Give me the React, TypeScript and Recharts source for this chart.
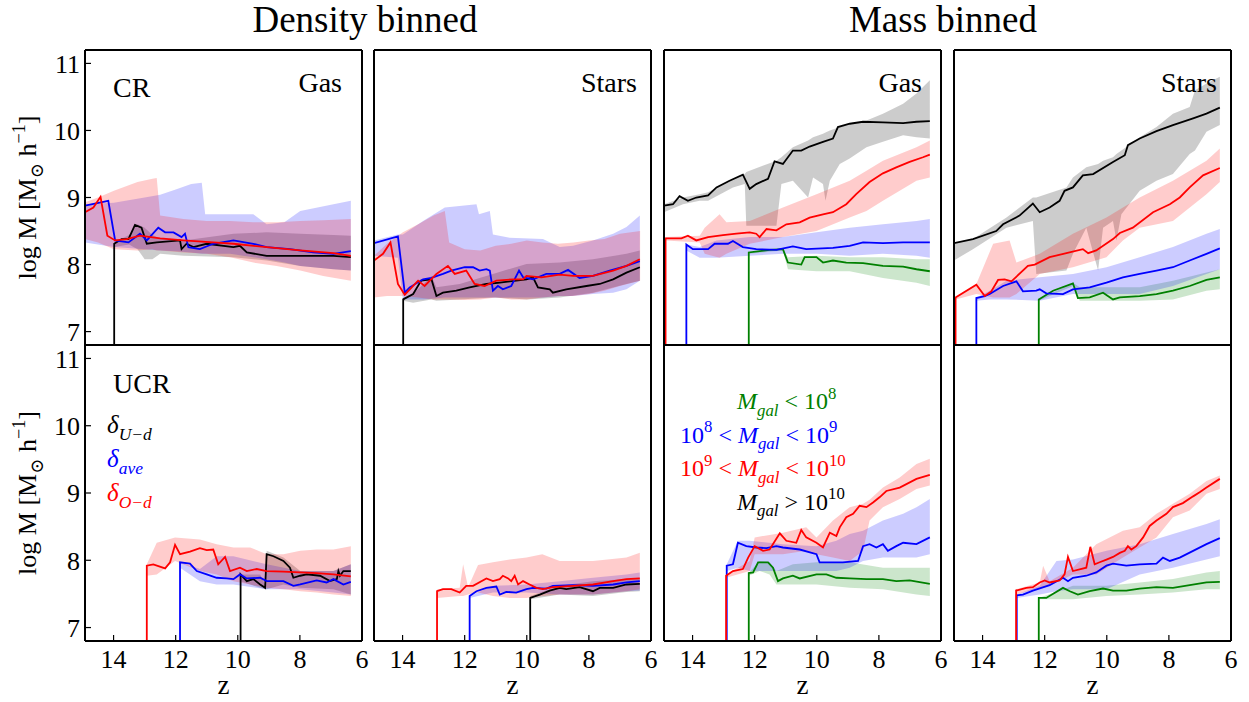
import React from 'react'
import { ComposedChart, Line, Area, XAxis, YAxis } from 'recharts'

type Pt = [number, number]          // [z, log M]
type Band = [number, number, number] // [z, low, high]

const FONT = "'Liberation Serif', 'DejaVu Serif', serif"
const BLACK = '#000000'
const BLUE = '#0000ff'
const RED = '#ff0000'
const GREEN = '#008000'

const zDomain: [number, number] = [6, 14.92]
const mDomain: [number, number] = [6.8, 11.2]
const zTicks = [6, 8, 10, 12, 14]
const mTicks = [7, 8, 9, 10, 11]

// ---------- CR, density binned, gas ----------
const crDensGasUd: Pt[] = [[13.98, 6], [13.98, 8.31], [13.74, 8.38], [13.52, 8.38], [13.31, 8.59], [13.1, 8.55], [12.93, 8.31], [12.61, 8.33], [11.86, 8.36], [11.81, 8.23], [11.65, 8.31], [11.43, 8.26], [11.0, 8.31], [10.14, 8.26], [9.93, 8.28], [9.71, 8.18], [9.07, 8.13], [7.99, 8.13], [6.92, 8.13], [6.36, 8.11]]
const crDensGasAve: Pt[] = [[14.92, 8.88], [14.17, 8.95], [13.95, 8.36], [13.52, 8.33], [13.15, 8.46], [12.93, 8.36], [12.56, 8.55], [12.34, 8.48], [12.07, 8.48], [11.81, 8.41], [11.7, 8.46], [11.59, 8.26], [11.22, 8.23], [10.79, 8.31], [10.14, 8.36], [9.5, 8.31], [9.07, 8.26], [8.32, 8.23], [7.57, 8.18], [6.92, 8.16], [6.36, 8.2]]
const crDensGasOd: Pt[] = [[14.92, 8.78], [14.65, 8.85], [14.42, 9.01], [14.2, 8.43], [13.95, 8.36], [13.58, 8.38], [13.15, 8.43], [12.5, 8.39], [11.75, 8.36], [10.79, 8.33], [10.14, 8.31], [9.07, 8.26], [7.99, 8.21], [6.92, 8.17], [6.36, 8.13]]
const crDensGasUdBand: Band[] = [[13.98, 8.26, 8.33], [13.5, 8.3, 8.44], [13.23, 8.23, 8.6], [13.0, 8.08, 8.55], [12.75, 8.08, 8.44], [12.5, 8.16, 8.39], [11.75, 8.13, 8.36], [10.14, 8.11, 8.46], [9.07, 8.06, 8.48], [7.99, 7.98, 8.46], [6.92, 7.93, 8.44], [6.36, 7.91, 8.43]]
const crDensGasAveBand: Band[] = [[14.92, 8.33, 8.9], [13.99, 8.26, 8.92], [13.0, 8.23, 9.0], [12.5, 8.21, 9.04], [12.0, 8.2, 9.12], [11.5, 8.18, 9.2], [11.16, 8.16, 9.22], [11.05, 8.16, 8.75], [10.25, 8.16, 8.75], [9.5, 8.11, 8.75], [9.07, 8.08, 8.6], [8.5, 8.03, 8.63], [7.99, 7.98, 8.8], [6.92, 7.93, 8.9], [6.36, 7.91, 8.95]]
const crDensGasOdBand: Band[] = [[14.92, 8.38, 8.93], [14.5, 8.33, 9.0], [13.99, 8.23, 9.1], [13.23, 8.21, 9.23], [12.75, 8.23, 9.28], [12.61, 8.21, 9.29], [12.5, 8.21, 8.73], [11.75, 8.18, 8.68], [11.0, 8.16, 8.65], [10.25, 8.11, 8.65], [9.5, 8.03, 8.63], [8.75, 7.98, 8.63], [7.99, 7.91, 8.65], [7.25, 7.83, 8.66], [6.36, 7.76, 8.68]]

// ---------- CR, density binned, stars ----------
const crDensStarUd: Pt[] = [[13.98, 6], [13.98, 7.48], [13.66, 7.56], [13.4, 7.76], [13.07, 7.78], [12.91, 7.53], [12.7, 7.58], [12.27, 7.61], [11.84, 7.66], [11.3, 7.71], [10.87, 7.73], [10.34, 7.76], [10.01, 7.78], [9.8, 7.81], [9.64, 7.66], [9.26, 7.63], [9.16, 7.58], [8.73, 7.63], [8.08, 7.68], [7.65, 7.71], [7.22, 7.78], [6.79, 7.88], [6.36, 7.96]]
const crDensStarAve: Pt[] = [[14.92, 8.32], [14.15, 8.42], [13.93, 7.58], [13.77, 7.66], [13.34, 7.78], [13.07, 7.8], [12.7, 7.86], [12.43, 7.91], [12.0, 7.96], [11.73, 7.96], [11.52, 7.91], [11.3, 7.93], [11.19, 7.91], [11.09, 7.61], [10.93, 7.68], [10.77, 7.63], [10.5, 7.68], [10.25, 7.91], [10.12, 7.81], [9.8, 7.78], [9.37, 7.86], [8.94, 7.86], [8.67, 7.92], [8.3, 7.8], [7.87, 7.83], [7.33, 7.91], [6.79, 7.98], [6.36, 8.05]]
const crDensStarOd: Pt[] = [[14.92, 8.06], [14.63, 8.16], [14.39, 8.33], [14.15, 7.71], [13.93, 7.55], [13.5, 7.76], [13.29, 7.68], [12.91, 7.86], [12.54, 7.98], [12.32, 7.86], [11.95, 7.91], [11.68, 7.71], [11.36, 7.68], [10.98, 7.76], [10.44, 7.78], [10.12, 7.78], [10.01, 7.83], [9.53, 7.81], [8.94, 7.85], [8.51, 7.83], [7.87, 7.83], [7.22, 7.91], [6.79, 7.98], [6.36, 8.08]]
const crDensStarUdBand: Band[] = [[13.98, 7.46, 7.51], [13.66, 7.43, 7.56], [13.07, 7.48, 7.83], [12.91, 7.46, 7.66], [12.16, 7.48, 7.71], [11.09, 7.51, 7.86], [10.01, 7.48, 8.01], [8.94, 7.51, 8.03], [7.87, 7.58, 8.08], [6.79, 7.71, 8.16], [6.36, 7.76, 8.21]]
const crDensStarAveBand: Band[] = [[14.92, 8.13, 8.36], [14.15, 8.1, 8.45], [13.99, 7.48, 8.45], [13.34, 7.48, 8.65], [12.64, 7.51, 8.85], [11.62, 7.51, 8.9], [11.54, 7.51, 8.75], [11.19, 7.51, 8.8], [11.09, 7.51, 8.45], [10.55, 7.51, 8.4], [9.48, 7.51, 8.38], [8.94, 7.53, 8.26], [8.51, 7.53, 8.28], [7.87, 7.56, 8.36], [7.22, 7.58, 8.46], [6.79, 7.63, 8.56], [6.36, 7.76, 8.73]]
const crDensStarOdBand: Band[] = [[14.92, 7.51, 8.13], [14.5, 7.53, 8.31], [13.99, 7.53, 8.48], [13.5, 7.51, 8.6], [13.0, 7.48, 8.73], [12.64, 7.48, 8.8], [12.5, 7.48, 8.33], [12.0, 7.47, 8.23], [11.5, 7.48, 8.21], [11.0, 7.51, 8.28], [10.5, 7.48, 8.31], [10.0, 7.48, 8.36], [9.5, 7.51, 8.33], [9.0, 7.53, 8.31], [8.5, 7.53, 8.33], [8.0, 7.56, 8.36], [7.5, 7.61, 8.38], [7.0, 7.68, 8.46], [6.35, 7.76, 8.5]]

// ---------- CR, mass binned, gas ----------
const crMassGasX: Pt[] = [[14.92, 8.88], [14.63, 8.9], [14.42, 9.02], [14.15, 8.95], [13.88, 9.0], [13.5, 9.03], [13.23, 9.15], [12.81, 9.25], [12.38, 9.34], [12.16, 9.13], [11.95, 9.2], [11.57, 9.28], [11.36, 9.54], [11.09, 9.5], [10.77, 9.7], [10.5, 9.7], [10.23, 9.76], [9.8, 9.83], [9.48, 9.88], [9.32, 10.05], [8.94, 10.1], [8.51, 10.13], [7.87, 10.12], [7.22, 10.11], [6.79, 10.13], [6.36, 10.14]]
const crMassGasH: Pt[] = [[14.87, 6], [14.87, 8.39], [14.36, 8.39], [14.15, 8.43], [13.88, 8.36], [13.5, 8.41], [13.02, 8.44], [12.59, 8.46], [12.16, 8.48], [11.95, 8.46], [11.84, 8.41], [11.62, 8.53], [11.3, 8.51], [10.98, 8.6], [10.55, 8.63], [10.23, 8.7], [9.8, 8.75], [9.48, 8.78], [9.05, 8.9], [8.73, 9.05], [8.3, 9.23], [7.87, 9.36], [7.44, 9.45], [7.01, 9.53], [6.58, 9.6], [6.36, 9.64]]
const crMassGasM: Pt[] = [[14.2, 6], [14.2, 8.3], [13.99, 8.23], [13.5, 8.23], [13.29, 8.31], [12.86, 8.31], [12.7, 8.35], [12.38, 8.26], [11.95, 8.23], [11.3, 8.22], [10.77, 8.27], [10.34, 8.23], [9.48, 8.25], [8.94, 8.28], [8.51, 8.33], [7.87, 8.32], [7.22, 8.33], [6.36, 8.33]]
const crMassGasL: Pt[] = [[12.19, 6], [12.19, 8.18], [11.84, 8.2], [11.52, 8.22], [11.09, 8.23], [10.93, 8.03], [10.5, 8.0], [10.39, 8.11], [10.01, 8.11], [9.8, 8.03], [9.48, 8.06], [9.05, 8.03], [8.51, 8.02], [7.87, 7.98], [7.22, 7.97], [6.79, 7.93], [6.36, 7.9]]
const crMassGasXBand: Band[] = [[14.92, 8.78, 8.9], [14.31, 8.9, 9.0], [13.77, 8.95, 9.05], [13.5, 8.95, 9.08], [12.7, 9.15, 9.28], [12.32, 9.2, 9.35], [12.27, 8.58, 9.38], [11.3, 8.58, 9.55], [11.14, 9.2, 9.6], [10.77, 9.25, 9.75], [10.28, 9.0, 9.85], [10.12, 9.3, 9.9], [9.8, 9.2, 9.95], [9.72, 8.95, 9.97], [9.58, 9.25, 10.0], [9.26, 9.5, 10.05], [8.94, 9.58, 10.1], [8.4, 9.75, 10.15], [7.87, 9.83, 10.25], [7.22, 9.93, 10.4], [6.79, 9.9, 10.55], [6.36, 9.88, 10.75]]
const crMassGasHBand: Band[] = [[14.87, 8.36, 8.41], [13.77, 8.33, 8.43], [13.61, 8.16, 8.55], [13.13, 8.1, 8.75], [12.91, 8.16, 8.63], [12.16, 8.31, 8.65], [11.09, 8.41, 8.85], [10.01, 8.5, 9.05], [8.94, 8.7, 9.25], [8.4, 8.8, 9.4], [7.87, 8.95, 9.55], [6.79, 9.25, 9.75], [6.36, 9.3, 9.85]]
const crMassGasMBand: Band[] = [[14.2, 8.21, 8.3], [13.77, 8.1, 8.26], [13.23, 8.1, 8.36], [12.16, 8.13, 8.41], [11.09, 8.16, 8.41], [10.01, 8.16, 8.48], [8.94, 8.13, 8.55], [7.87, 8.16, 8.6], [6.79, 8.13, 8.65], [6.36, 8.1, 8.68]]
const crMassGasLBand: Band[] = [[12.19, 8.16, 8.18], [11.09, 8.21, 8.23], [10.93, 7.93, 8.11], [10.01, 7.9, 8.13], [8.94, 7.9, 8.11], [7.87, 7.8, 8.11], [6.79, 7.73, 8.08], [6.36, 7.68, 8.08]]

// ---------- CR, mass binned, stars ----------
const crMassStarX: Pt[] = [[14.92, 8.32], [14.31, 8.38], [13.56, 8.5], [13.34, 8.6], [12.81, 8.73], [12.38, 8.91], [12.16, 8.78], [11.84, 8.85], [11.52, 8.95], [11.36, 9.1], [11.09, 9.15], [10.77, 9.33], [10.44, 9.35], [9.8, 9.53], [9.42, 9.63], [9.32, 9.78], [8.94, 9.88], [8.4, 9.99], [7.87, 10.08], [7.22, 10.18], [6.79, 10.25], [6.36, 10.34]]
const crMassStarH: Pt[] = [[14.87, 6], [14.87, 7.51], [14.2, 7.7], [13.93, 7.53], [13.72, 7.6], [13.5, 7.77], [13.29, 7.78], [13.07, 7.75], [12.54, 7.98], [12.32, 8.0], [11.84, 8.11], [11.3, 8.17], [10.77, 8.23], [10.6, 8.17], [10.34, 8.21], [9.8, 8.38], [9.58, 8.47], [9.16, 8.55], [8.51, 8.78], [7.97, 8.9], [7.65, 9.0], [7.33, 9.15], [6.9, 9.33], [6.36, 9.44]]
const crMassStarM: Pt[] = [[14.2, 6], [14.2, 7.5], [13.93, 7.53], [13.77, 7.56], [13.34, 7.68], [12.91, 7.75], [12.7, 7.6], [12.27, 7.61], [12.16, 7.63], [11.95, 7.57], [11.41, 7.56], [11.09, 7.63], [10.55, 7.66], [10.01, 7.73], [9.48, 7.81], [8.94, 7.86], [8.4, 7.91], [7.87, 7.96], [7.33, 8.06], [6.79, 8.16], [6.36, 8.24]]
const crMassStarL: Pt[] = [[12.19, 6], [12.19, 7.48], [11.73, 7.61], [11.09, 7.72], [10.93, 7.5], [10.55, 7.51], [10.12, 7.58], [9.8, 7.48], [9.58, 7.51], [8.94, 7.53], [8.4, 7.56], [7.87, 7.61], [7.33, 7.68], [6.79, 7.77], [6.36, 7.81]]
const crMassStarXBand: Band[] = [[14.92, 8.06, 8.33], [14.31, 8.23, 8.38], [13.23, 8.55, 8.7], [12.38, 8.65, 9.0], [12.27, 7.86, 9.0], [11.3, 7.91, 9.15], [11.09, 8.16, 9.3], [10.66, 8.55, 9.45], [10.28, 7.91, 9.5], [10.12, 8.55, 9.55], [9.8, 8.65, 9.6], [9.69, 8.36, 9.65], [9.53, 8.75, 9.7], [8.94, 9.1, 9.9], [8.4, 9.25, 10.05], [7.87, 9.35, 10.25], [7.33, 9.65, 10.35], [7.16, 9.7, 10.6], [6.79, 9.98, 10.7], [6.36, 10.08, 10.8]]
const crMassStarHBand: Band[] = [[14.87, 7.48, 7.51], [14.2, 7.56, 7.71], [13.66, 7.51, 8.31], [13.13, 7.51, 8.36], [12.91, 7.56, 8.03], [12.16, 7.86, 8.16], [11.09, 7.96, 8.46], [10.01, 8.11, 8.7], [9.48, 8.36, 8.85], [8.94, 8.55, 9.0], [7.87, 8.65, 9.25], [6.79, 9.05, 9.55], [6.36, 9.23, 9.73]]
const crMassStarMBand: Band[] = [[14.2, 7.46, 7.51], [13.77, 7.48, 7.61], [13.23, 7.48, 7.76], [12.16, 7.46, 7.81], [11.09, 7.56, 7.86], [10.01, 7.56, 7.96], [8.94, 7.56, 8.11], [7.87, 7.68, 8.26], [6.79, 7.86, 8.46], [6.36, 7.93, 8.53]]
const crMassStarLBand: Band[] = [[12.19, 7.46, 7.48], [11.09, 7.68, 7.73], [10.87, 7.46, 7.66], [10.01, 7.46, 7.66], [8.94, 7.46, 7.66], [7.87, 7.48, 7.76], [6.79, 7.61, 7.88], [6.36, 7.63, 7.93]]

// ---------- UCR, density binned, gas ----------
const ucrDensGasUd: Pt[] = [[9.91, 6], [9.91, 7.79], [9.71, 7.69], [9.5, 7.72], [9.28, 7.64], [9.12, 7.59], [9.07, 8.09], [8.85, 8.06], [8.53, 7.99], [8.32, 7.89], [8.21, 7.74], [7.99, 7.77], [7.78, 7.79], [7.35, 7.77], [7.03, 7.69], [6.81, 7.72], [6.76, 7.84], [6.71, 7.77], [6.6, 7.84], [6.36, 7.84]]
const ucrDensGasAve: Pt[] = [[11.86, 6], [11.86, 7.97], [11.54, 7.95], [11.32, 7.84], [11.0, 7.79], [10.68, 7.74], [10.36, 7.73], [10.14, 7.72], [9.93, 7.79], [9.71, 7.73], [9.28, 7.74], [9.07, 7.69], [8.53, 7.69], [8.21, 7.62], [7.99, 7.64], [7.46, 7.7], [7.14, 7.67], [6.92, 7.72], [6.6, 7.64], [6.36, 7.68]]
const ucrDensGasOd: Pt[] = [[12.93, 6], [12.93, 7.92], [12.72, 7.94], [12.34, 7.88], [12.18, 7.97], [12.02, 8.23], [11.86, 8.09], [11.54, 8.13], [11.22, 8.18], [11.0, 8.15], [10.79, 8.16], [10.63, 7.94], [10.41, 8.05], [10.25, 7.84], [9.93, 7.89], [9.71, 7.84], [9.39, 7.87], [9.07, 7.84], [8.53, 7.83], [7.99, 7.82], [7.46, 7.81], [6.92, 7.79], [6.36, 7.76]]
const ucrDensGasUdBand: Band[] = [[9.91, 7.69, 7.79], [9.28, 7.59, 7.79], [9.12, 7.57, 7.64], [9.07, 7.57, 8.14], [8.53, 7.64, 8.04], [7.99, 7.59, 7.84], [6.92, 7.57, 7.84], [6.36, 7.49, 7.94]]
const ucrDensGasAveBand: Band[] = [[11.86, 7.89, 7.97], [11.22, 7.69, 7.87], [10.68, 7.64, 8.06], [10.14, 7.64, 8.06], [9.07, 7.57, 7.94], [7.99, 7.57, 7.84], [6.92, 7.52, 7.84], [6.36, 7.49, 7.94]]
const ucrDensGasOdBand: Band[] = [[12.93, 7.77, 7.94], [12.61, 7.79, 8.26], [12.02, 7.99, 8.34], [11.22, 7.84, 8.31], [10.68, 7.79, 8.24], [10.14, 7.69, 8.19], [9.6, 7.64, 8.19], [9.07, 7.59, 8.09], [8.53, 7.57, 8.09], [7.99, 7.54, 8.14], [7.46, 7.52, 8.16], [6.92, 7.49, 8.16], [6.36, 7.47, 8.21]]

// ---------- UCR, density binned, stars ----------
const ucrDensStarUd: Pt[] = [[9.89, 6], [9.89, 7.44], [9.58, 7.49], [9.26, 7.55], [8.94, 7.59], [8.73, 7.57], [8.3, 7.6], [7.87, 7.54], [7.65, 7.59], [7.22, 7.59], [6.79, 7.64], [6.36, 7.65]]
const ucrDensStarAve: Pt[] = [[11.84, 6], [11.84, 7.47], [11.62, 7.54], [11.3, 7.59], [10.98, 7.61], [10.87, 7.49], [10.66, 7.53], [10.34, 7.52], [10.01, 7.57], [9.8, 7.59], [9.37, 7.58], [9.16, 7.62], [8.51, 7.63], [7.87, 7.62], [7.22, 7.64], [6.79, 7.67], [6.36, 7.69]]
const ucrDensStarOd: Pt[] = [[12.89, 6], [12.89, 7.54], [12.7, 7.57], [12.43, 7.57], [12.16, 7.52], [11.95, 7.62], [11.73, 7.62], [11.3, 7.73], [11.09, 7.69], [10.87, 7.72], [10.77, 7.77], [10.6, 7.73], [10.5, 7.69], [10.39, 7.77], [10.28, 7.64], [10.12, 7.69], [9.91, 7.64], [9.69, 7.59], [9.48, 7.57], [9.16, 7.6], [8.51, 7.62], [7.87, 7.64], [7.22, 7.69], [6.79, 7.72], [6.36, 7.73]]
const ucrDensStarUdBand: Band[] = [[9.89, 7.42, 7.47], [8.94, 7.49, 7.62], [7.87, 7.47, 7.69], [6.79, 7.53, 7.72], [6.36, 7.54, 7.73]]
const ucrDensStarAveBand: Band[] = [[11.84, 7.44, 7.47], [11.09, 7.52, 7.62], [10.01, 7.52, 7.64], [8.94, 7.49, 7.69], [7.87, 7.49, 7.74], [6.79, 7.54, 7.79], [6.36, 7.55, 7.82]]
const ucrDensStarOdBand: Band[] = [[12.89, 7.44, 7.57], [12.16, 7.47, 7.59], [12.05, 7.47, 7.94], [11.89, 7.49, 7.6], [11.57, 7.52, 7.93], [11.09, 7.47, 7.97], [10.55, 7.44, 8.01], [10.01, 7.44, 8.04], [9.5, 7.47, 8.09], [8.94, 7.49, 7.99], [7.87, 7.49, 7.99], [6.79, 7.54, 8.04], [6.36, 7.57, 8.11]]

// ---------- UCR, mass binned, gas ----------
const ucrMassGasH: Pt[] = [[12.92, 6], [12.92, 7.77], [12.7, 7.84], [12.38, 7.87], [12.21, 8.04], [12.0, 8.21], [11.73, 8.14], [11.52, 8.16], [11.19, 8.4], [10.98, 8.29], [10.66, 8.26], [10.5, 8.45], [10.34, 8.34], [10.01, 8.26], [9.8, 8.19], [9.58, 8.41], [9.37, 8.36], [9.26, 8.49], [9.05, 8.64], [8.83, 8.69], [8.62, 8.81], [8.4, 8.79], [8.19, 8.86], [7.97, 8.94], [7.76, 9.03], [7.33, 9.08], [6.79, 9.21], [6.36, 9.27]]
const ucrMassGasM: Pt[] = [[12.9, 6], [12.9, 7.92], [12.7, 7.94], [12.54, 8.26], [12.27, 8.21], [11.95, 8.19], [11.62, 8.18], [11.3, 8.21], [11.09, 8.19], [10.55, 8.16], [10.01, 8.09], [9.91, 7.97], [9.58, 7.97], [9.16, 7.97], [8.67, 7.99], [8.51, 8.21], [8.3, 8.24], [8.08, 8.19], [7.87, 8.24], [7.71, 8.14], [7.44, 8.21], [7.22, 8.26], [6.79, 8.24], [6.36, 8.34]]
const ucrMassGasL: Pt[] = [[12.19, 6], [12.19, 7.81], [12.05, 7.82], [11.89, 7.97], [11.57, 7.97], [11.41, 7.89], [11.25, 7.69], [11.09, 7.73], [10.77, 7.77], [10.55, 7.73], [10.01, 7.79], [9.69, 7.79], [9.37, 7.74], [8.94, 7.73], [8.4, 7.72], [7.87, 7.72], [7.44, 7.69], [7.01, 7.7], [6.36, 7.65]]
const ucrMassGasHBand: Band[] = [[12.92, 7.74, 7.79], [12.16, 7.84, 7.99], [12.0, 8.09, 8.34], [11.09, 8.09, 8.41], [10.34, 8.14, 8.49], [10.01, 8.09, 8.34], [9.48, 8.04, 8.59], [8.94, 7.99, 8.79], [8.51, 8.14, 8.84], [8.3, 8.59, 8.9], [7.87, 8.79, 9.08], [7.33, 8.91, 9.23], [6.79, 9.06, 9.43], [6.36, 9.11, 9.51]]
const ucrMassGasMBand: Band[] = [[12.9, 7.84, 7.94], [12.54, 7.89, 8.29], [12.16, 7.84, 8.29], [11.09, 7.84, 8.24], [10.01, 7.84, 8.21], [9.37, 7.84, 8.29], [8.94, 7.89, 8.39], [8.51, 7.99, 8.44], [7.87, 8.04, 8.59], [7.22, 8.04, 8.69], [6.79, 8.04, 8.79], [6.36, 8.09, 8.91]]
const ucrMassGasLBand: Band[] = [[12.19, 7.77, 7.81], [11.84, 7.84, 7.99], [11.52, 7.79, 7.97], [11.3, 7.64, 7.84], [10.77, 7.64, 7.94], [10.01, 7.64, 7.97], [8.94, 7.59, 7.97], [7.87, 7.57, 7.89], [6.79, 7.49, 7.89], [6.36, 7.47, 7.89]]

// ---------- UCR, mass binned, stars ----------
const ucrMassStarH: Pt[] = [[12.92, 6], [12.92, 7.55], [12.59, 7.59], [12.38, 7.6], [12.16, 7.67], [12.0, 7.7], [11.84, 7.67], [11.52, 7.7], [11.36, 7.79], [11.25, 8.05], [11.09, 7.84], [10.66, 7.89], [10.53, 8.2], [10.39, 7.94], [10.23, 7.97], [10.01, 8.01], [9.8, 8.05], [9.58, 8.11], [9.42, 8.14], [9.32, 8.21], [9.21, 8.16], [9.05, 8.21], [8.83, 8.34], [8.62, 8.51], [8.4, 8.59], [8.08, 8.69], [7.87, 8.79], [7.55, 8.85], [7.22, 8.95], [7.01, 9.01], [6.79, 9.08], [6.36, 9.21]]
const ucrMassStarM: Pt[] = [[12.9, 6], [12.9, 7.48], [12.7, 7.49], [12.38, 7.55], [11.84, 7.63], [11.41, 7.74], [11.25, 7.69], [11.09, 7.74], [10.66, 7.77], [10.34, 7.82], [10.01, 7.92], [9.8, 7.95], [9.37, 7.92], [8.94, 7.94], [8.4, 7.95], [8.19, 8.04], [7.97, 7.99], [7.65, 8.04], [7.22, 8.14], [6.79, 8.24], [6.36, 8.33]]
const ucrMassStarL: Pt[] = [[12.19, 6], [12.19, 7.44], [11.95, 7.44], [11.41, 7.59], [11.19, 7.54], [10.93, 7.49], [10.55, 7.54], [10.12, 7.58], [9.8, 7.55], [9.37, 7.55], [8.94, 7.58], [8.4, 7.6], [7.87, 7.59], [7.33, 7.63], [6.79, 7.67], [6.36, 7.68]]
const ucrMassStarHBand: Band[] = [[12.92, 7.49, 7.57], [12.16, 7.59, 7.67], [12.05, 7.59, 7.92], [11.84, 7.62, 7.69], [11.09, 7.79, 7.89], [10.34, 7.79, 8.24], [9.48, 8.04, 8.44], [8.94, 8.19, 8.49], [8.4, 8.34, 8.69], [7.87, 8.64, 8.84], [7.33, 8.74, 8.99], [6.79, 8.99, 9.18], [6.36, 9.06, 9.26]]
const ucrMassStarMBand: Band[] = [[12.9, 7.44, 7.49], [12.16, 7.49, 7.62], [11.62, 7.54, 7.99], [11.09, 7.57, 8.01], [10.01, 7.57, 8.14], [8.94, 7.79, 8.24], [7.87, 7.89, 8.39], [6.79, 8.01, 8.54], [6.36, 8.06, 8.61]]
const ucrMassStarLBand: Band[] = [[12.19, 7.42, 7.44], [11.09, 7.42, 7.62], [10.01, 7.47, 7.62], [8.94, 7.49, 7.67], [7.87, 7.52, 7.72], [6.79, 7.57, 7.82], [6.36, 7.57, 7.84]]

// ---------- layout ----------
const PLOT_W = 277
const colLeft = [85, 374, 664, 954]
const rowTop = [50, 345]
const rowH = [295, 296]
const PAD_L = 70
const PAD_R = 20
const PAD_T = 20
const PAD_B = 50

interface Series { color: string; line: Pt[]; band: Band[] }
interface PanelDef { col: number; row: number; series: Series[] }

const panels: PanelDef[] = [
  { col: 0, row: 0, series: [
    { color: BLACK, line: crDensGasUd, band: crDensGasUdBand },
    { color: BLUE, line: crDensGasAve, band: crDensGasAveBand },
    { color: RED, line: crDensGasOd, band: crDensGasOdBand },
  ] },
  { col: 1, row: 0, series: [
    { color: BLACK, line: crDensStarUd, band: crDensStarUdBand },
    { color: BLUE, line: crDensStarAve, band: crDensStarAveBand },
    { color: RED, line: crDensStarOd, band: crDensStarOdBand },
  ] },
  { col: 2, row: 0, series: [
    { color: BLACK, line: crMassGasX, band: crMassGasXBand },
    { color: GREEN, line: crMassGasL, band: crMassGasLBand },
    { color: BLUE, line: crMassGasM, band: crMassGasMBand },
    { color: RED, line: crMassGasH, band: crMassGasHBand },
  ] },
  { col: 3, row: 0, series: [
    { color: BLACK, line: crMassStarX, band: crMassStarXBand },
    { color: GREEN, line: crMassStarL, band: crMassStarLBand },
    { color: BLUE, line: crMassStarM, band: crMassStarMBand },
    { color: RED, line: crMassStarH, band: crMassStarHBand },
  ] },
  { col: 0, row: 1, series: [
    { color: BLACK, line: ucrDensGasUd, band: ucrDensGasUdBand },
    { color: BLUE, line: ucrDensGasAve, band: ucrDensGasAveBand },
    { color: RED, line: ucrDensGasOd, band: ucrDensGasOdBand },
  ] },
  { col: 1, row: 1, series: [
    { color: BLACK, line: ucrDensStarUd, band: ucrDensStarUdBand },
    { color: BLUE, line: ucrDensStarAve, band: ucrDensStarAveBand },
    { color: RED, line: ucrDensStarOd, band: ucrDensStarOdBand },
  ] },
  { col: 2, row: 1, series: [
    { color: GREEN, line: ucrMassGasL, band: ucrMassGasLBand },
    { color: BLUE, line: ucrMassGasM, band: ucrMassGasMBand },
    { color: RED, line: ucrMassGasH, band: ucrMassGasHBand },
  ] },
  { col: 3, row: 1, series: [
    { color: GREEN, line: ucrMassStarL, band: ucrMassStarLBand },
    { color: BLUE, line: ucrMassStarM, band: ucrMassStarMBand },
    { color: RED, line: ucrMassStarH, band: ucrMassStarHBand },
  ] },
]

const axisLine = { stroke: '#000', strokeWidth: 2 }
const tickLine = { stroke: '#000', strokeWidth: 1.2 }
const tickFont = { fontSize: 26, fill: '#000', fontFamily: FONT }

function Panel({ col, row, series }: PanelDef) {
  const h = rowH[row]
  return (
    <div style={{ position: 'absolute', left: colLeft[col] - PAD_L, top: rowTop[row] - PAD_T }}>
      <ComposedChart
        width={PLOT_W + PAD_L + PAD_R}
        height={h + PAD_T + PAD_B}
        margin={{ top: 10, right: 10, bottom: 10, left: 10 }}
      >
        {series.map((s, i) => (
          <Area
            key={'b' + i}
            data={s.band.map(([z, lo, hi]) => ({ z, r: [lo, hi] }))}
            dataKey="r"
            type="linear"
            stroke="none"
            fill={s.color}
            fillOpacity={0.2}
            dot={false}
            activeDot={false}
            isAnimationActive={false}
          />
        ))}
        {series.map((s, i) => (
          <Line
            key={'l' + i}
            data={s.line.map(([z, m]) => ({ z, m }))}
            dataKey="m"
            type="linear"
            stroke={s.color}
            strokeWidth={1.8}
            dot={false}
            activeDot={false}
            isAnimationActive={false}
          />
        ))}
        <XAxis
          type="number" dataKey="z" domain={zDomain} reversed allowDataOverflow
          ticks={zTicks} interval={0} height={40}
          axisLine={axisLine} tickLine={tickLine} tickSize={-6} tickMargin={15}
          tick={row === 1 ? tickFont : false}
        />
        <XAxis
          xAxisId="top" orientation="top" type="number" domain={zDomain} reversed allowDataOverflow
          ticks={zTicks} interval={0} height={10}
          axisLine={axisLine} tickLine={tickLine} tickSize={-6} tick={false}
        />
        <YAxis
          type="number" domain={mDomain} allowDataOverflow ticks={mTicks} interval={0} width={60}
          axisLine={axisLine} tickLine={tickLine} tickSize={-6} tickMargin={11}
          tick={col === 0 ? tickFont : false}
        />
        <YAxis
          yAxisId="right" orientation="right" type="number" domain={mDomain} allowDataOverflow
          ticks={mTicks} interval={0} width={10}
          axisLine={axisLine} tickLine={tickLine} tickSize={-6} tick={false}
        />
      </ComposedChart>
    </div>
  )
}

type Seg = { t: string; it?: boolean; pos?: 'sub' | 'sup' }

function Rich({ x, y, size, fill = '#000', segs, anchor = 'start', transform }: {
  x: number; y: number; size: number; fill?: string; segs: Seg[]; anchor?: string; transform?: string
}) {
  let cur = 0
  return (
    <text x={x} y={y} fontSize={size} fill={fill} fontFamily={FONT} textAnchor={anchor} transform={transform}>
      {segs.map((s, i) => {
        const off = s.pos === 'sub' ? size * 0.28 : s.pos === 'sup' ? -size * 0.42 : 0
        const dy = off - cur
        cur = off
        return (
          <tspan key={i} dy={dy} fontSize={s.pos ? size * 0.7 : size} fontStyle={s.it ? 'italic' : 'normal'}>
            {s.t}
          </tspan>
        )
      })}
    </text>
  )
}

const yLabel: Seg[] = [{ t: 'log M [M' }, { t: '⊙', pos: 'sub' }, { t: ' h' }, { t: '−1', pos: 'sup' }, { t: ']' }]

const densLegend: { color: string; sub: string }[] = [
  { color: BLACK, sub: 'U−d' },
  { color: BLUE, sub: 'ave' },
  { color: RED, sub: 'O−d' },
]

const massLegend: { color: string; x: number; segs: Seg[] }[] = [
  { color: GREEN, x: 737, segs: [{ t: 'M', it: true }, { t: 'gal', it: true, pos: 'sub' }, { t: ' < 10' }, { t: '8', pos: 'sup' }] },
  { color: BLUE, x: 680, segs: [{ t: '10' }, { t: '8', pos: 'sup' }, { t: ' < ' }, { t: 'M', it: true }, { t: 'gal', it: true, pos: 'sub' }, { t: ' < 10' }, { t: '9', pos: 'sup' }] },
  { color: RED, x: 680, segs: [{ t: '10' }, { t: '9', pos: 'sup' }, { t: ' < ' }, { t: 'M', it: true }, { t: 'gal', it: true, pos: 'sub' }, { t: ' < 10' }, { t: '10', pos: 'sup' }] },
  { color: BLACK, x: 737, segs: [{ t: 'M', it: true }, { t: 'gal', it: true, pos: 'sub' }, { t: ' > 10' }, { t: '10', pos: 'sup' }] },
]

function Overlay() {
  return (
    <svg width={1249} height={702} style={{ position: 'absolute', left: 0, top: 0, pointerEvents: 'none' }}>
      <text x={365} y={32} textAnchor="middle" fontSize={37} fontFamily={FONT}>Density binned</text>
      <text x={943} y={32} textAnchor="middle" fontSize={37} fontFamily={FONT}>Mass binned</text>

      {rowTop.map((t, r) => (
        <Rich key={r} x={0} y={0} size={26} segs={yLabel} anchor="middle"
          transform={`translate(36, ${t + rowH[r] / 2}) rotate(-90)`} />
      ))}
      {colLeft.map((l, c) => (
        <text key={c} x={l + PLOT_W / 2} y={694} textAnchor="middle" fontSize={27} fontFamily={FONT}>z</text>
      ))}

      <text x={113} y={97} fontSize={28} fontFamily={FONT}>CR</text>
      <text x={113} y={393} fontSize={28} fontFamily={FONT}>UCR</text>
      <text x={342} y={92} textAnchor="end" fontSize={28} fontFamily={FONT}>Gas</text>
      <text x={637} y={92} textAnchor="end" fontSize={28} fontFamily={FONT}>Stars</text>
      <text x={922} y={92} textAnchor="end" fontSize={28} fontFamily={FONT}>Gas</text>
      <text x={1217} y={92} textAnchor="end" fontSize={28} fontFamily={FONT}>Stars</text>

      {densLegend.map((d, i) => (
        <Rich key={d.sub} x={107} y={433 + i * 34} size={25} fill={d.color}
          segs={[{ t: 'δ', it: true }, { t: d.sub, it: true, pos: 'sub' }]} />
      ))}
      {massLegend.map((d, i) => (
        <Rich key={i} x={d.x} y={409 + i * 33.5} size={24} fill={d.color} segs={d.segs} />
      ))}
    </svg>
  )
}

export default function App() {
  return (
    <div style={{ position: 'absolute', left: 0, top: 0, width: 1249, height: 702, background: '#fff', overflow: 'hidden' }}>
      {panels.map((p, i) => <Panel key={i} {...p} />)}
      <Overlay />
    </div>
  )
}
